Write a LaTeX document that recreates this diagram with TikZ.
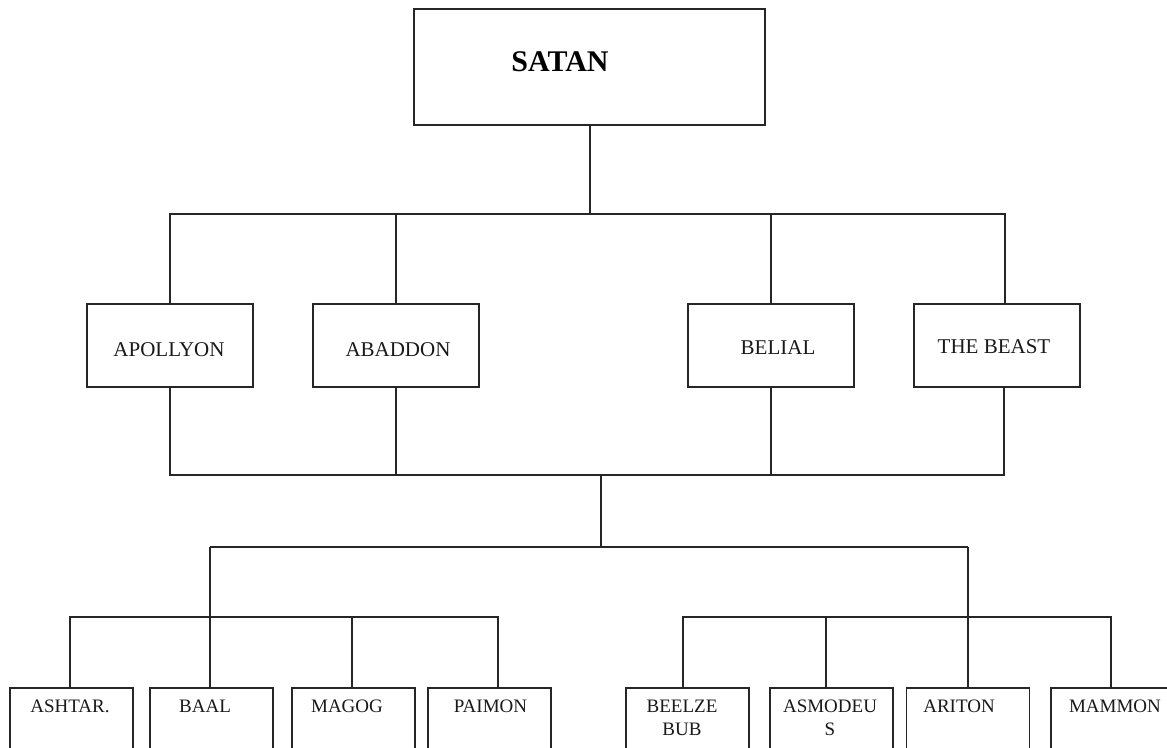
\documentclass[tikz,border=0pt]{standalone}
\usepackage{fontspec}
\setmainfont{Liberation Serif}
\begin{document}
\begin{tikzpicture}[x=1pt,y=-1pt,
  ln/.style={draw=black!85,line width=1.8pt},
  box/.style={ln,rectangle,inner sep=0pt,fill=white},
  topbox/.style={box,minimum width=351pt,minimum height=116pt},
  midbox/.style={box,minimum width=166pt,minimum height=83pt},
  lowbox/.style={box,minimum width=123pt,minimum height=90pt},
  midtxt/.style={font=\fontsize{21}{24}\selectfont,inner sep=0pt,text=black!90},
  lowtxt/.style={font=\fontsize{19}{23}\selectfont,inner sep=0pt,text=black!90,align=center},
  toptxt/.style={font=\fontsize{30}{34}\selectfont\bfseries,inner sep=0pt}
]
\useasboundingbox (0,0) rectangle (1167,747);
\fill[white] (0,0) rectangle (1167,747);

% boxes
\node[topbox] (satan) at (589.5,67) {};
\node[toptxt] (satant) at (560,62) {SATAN};

\node[midbox] (apollyon) at (170,345.5) {};
\node[midbox] (abaddon) at (396,345.5) {};
\node[midbox] (belial) at (771,345.5) {};
\node[midbox] (beast) at (997,345.5) {};
\node[midtxt] (apollyont) at (169,350) {APOLLYON};
\node[midtxt] (abaddont) at (398,350) {ABADDON};
\node[midtxt] (belialt) at (778,348) {BELIAL};
\node[midtxt] (beastt) at (994,347) {THE BEAST};

\node[lowbox,anchor=north] (ashtar) at (71.5,687) {};
\node[lowbox,anchor=north] (baal) at (211.5,687) {};
\node[lowbox,anchor=north] (magog) at (353.5,687) {};
\node[lowbox,anchor=north] (paimon) at (489.5,687) {};
\node[lowbox,anchor=north] (beelze) at (687.5,687) {};
\node[lowbox,anchor=north] (asmodeus) at (831.5,687) {};
\node[lowbox,anchor=north] (ariton) at (968,687) {};
\node[lowbox,anchor=north] (mammon) at (1112.5,687) {};

\node[lowtxt,anchor=north] (ashtart) at (70,700) {ASHTAR.};
\node[lowtxt,anchor=north] (baalt) at (205,700) {BAAL};
\node[lowtxt,anchor=north] (magogt) at (347,700) {MAGOG};
\node[lowtxt,anchor=north] (paimont) at (490.5,700) {PAIMON};
\node[lowtxt,anchor=north] (beelzet) at (682,700) {BEELZE\\BUB};
\node[lowtxt,anchor=north] (asmodeust) at (830,700) {ASMODEU\\S};
\node[lowtxt,anchor=north] (aritont) at (959,700) {ARITON};
\node[lowtxt,anchor=north] (mammont) at (1115,700) {MAMMON};

% junction coordinates
\coordinate (j1) at (590,214);
\coordinate (j2) at (601,475);
\coordinate (j3) at (601,547);
\coordinate (jl) at (210,547);
\coordinate (jr) at (968,547);
\coordinate (kl) at (210,617);
\coordinate (kr) at (968,617);

% connectors level 1
\draw[ln] (satan.south -| j1) -- (j1);
\draw[ln] (apollyon.north) |- (j1) -| (beast.north -| 1005,0);
\draw[ln] (abaddon.north) -- (abaddon.north |- j1);
\draw[ln] (belial.north) -- (belial.north |- j1);

% connectors level 2
\draw[ln] (apollyon.south) |- (j2) -| (beast.south -| 1004,0);
\draw[ln] (abaddon.south) -- (abaddon.south |- j2);
\draw[ln] (belial.south) -- (belial.south |- j2);
\draw[ln] (j2) -- (j3);
\draw[ln] (jl) -- (jr);
\draw[ln] (jl) -- (kl);
\draw[ln] (jr) -- (kr);

% connectors level 3 left
\draw[ln] (ashtar.north -| 70,0) |- (kl) -| (paimon.north -| 498,0);
\draw[ln] (baal.north -| kl) -- (kl);
\draw[ln] (magog.north -| 352,0) -- (352,617);
% connectors level 3 right
\draw[ln] (beelze.north -| 683,0) |- (kr) -| (mammon.north -| 1111,0);
\draw[ln] (asmodeus.north -| 826,0) -- (826,617);
\draw[ln] (ariton.north -| kr) -- (kr);
\end{tikzpicture}
\end{document}
